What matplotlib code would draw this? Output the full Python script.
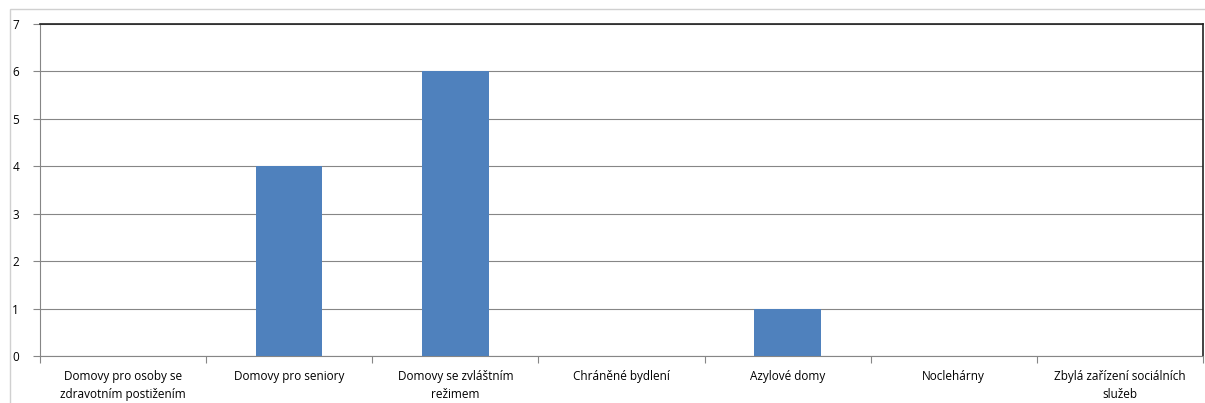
import matplotlib
matplotlib.use("Agg")
import matplotlib.pyplot as plt
from matplotlib.patches import Rectangle

# data
categories = [
    "Domovy pro osoby se\nzdravotním postižením",
    "Domovy pro seniory",
    "Domovy se zvláštním\nrežimem",
    "Chráněné bydlení",
    "Azylové domy",
    "Noclehárny",
    "Zbylá zařízení sociálních\nslužeb",
]
values = [0, 4, 6, 0, 1, 0, 0]
y_ticks = [0, 1, 2, 3, 4, 5, 6, 7]

plt.rcParams['font.family'] = ['Open Sans', 'DejaVu Sans']

W, H = 1205, 403
fig = plt.figure(figsize=(W / 100, H / 100), dpi=100)

# outer chart border (light gray)
fig.patches.append(Rectangle((9.5 / W, -0.1), 1.2, 1 - 9.5 / H + 0.1,
                             transform=fig.transFigure, fill=False,
                             edgecolor="#d0d0d0", linewidth=1))

ax = fig.add_axes([40 / W, (H - 356) / H, (1203 - 40) / W, (356 - 24) / H])

x = list(range(len(categories)))
ax.bar(x, values, width=0.4, color="#4F81BD", zorder=3)

ax.set_xlim(-0.5, len(categories) - 0.5)
ax.set_ylim(0, 7)
ax.set_yticks(y_ticks)
ax.set_yticklabels([str(t) for t in y_ticks], fontsize=8.5)

# category ticks sit between categories
ax.set_xticks([i - 0.5 for i in range(len(categories) + 1)])
ax.set_xticklabels([])
ax.set_xticks(x, minor=True)
ax.set_xticklabels(categories, minor=True, fontsize=8.5, linespacing=1.5)
ax.tick_params(axis="x", which="minor", length=0, pad=10)
ax.tick_params(axis="x", which="major", length=5, color="#868686")
ax.tick_params(axis="y", length=5, color="#868686", pad=10)

ax.yaxis.grid(True, color="#868686", linewidth=0.8, zorder=0)

for s in ["left", "bottom"]:
    ax.spines[s].set_color("#868686")
for s in ["top", "right"]:
    ax.spines[s].set_color("#222222")
    ax.spines[s].set_linewidth(1.2)

fig.savefig("out.png", dpi=100)
